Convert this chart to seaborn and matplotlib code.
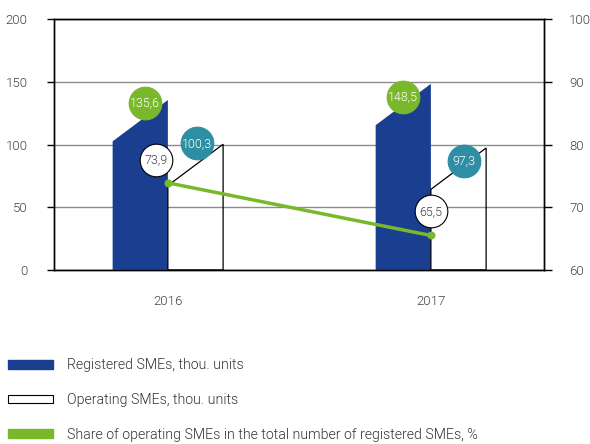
# SME chart: registered vs operating SMEs with share line
import numpy as np
import pandas as pd
import seaborn as sns
import matplotlib.pyplot as plt
from matplotlib.patches import Polygon, Patch
from matplotlib.transforms import offset_copy

# Data
years = ['2016', '2017']
registered = [135.6, 148.5]
operating = [100.3, 97.3]
share = [73.9, 65.5]

reg_name = 'Registered SMEs, thou. units'
op_name = 'Operating SMEs, thou. units'
share_name = 'Share of operating SMEs in the total number of registered SMEs, %'

# Style
BLUE = '#1a3f91'
GREEN = '#79b82b'
TEAL = '#2e8ea3'
TEXT = '#444444'
GRID = '#8c8c8c'
SLANT = 33      # drop of the bar top-left corner, in left-axis units
BAR_W = 0.42

sns.set_style('white')
plt.rcParams['font.family'] = ['Roboto', 'DejaVu Sans']
plt.rcParams['font.weight'] = 300

df = pd.DataFrame({
    'year': years * 2,
    'value': registered + operating,
    'series': [reg_name] * 2 + [op_name] * 2,
})

fig = plt.figure(figsize=(5.9, 4.44), dpi=100)
ax = fig.add_axes([0.0915, 0.392, 0.8305, 0.5646])

sns.barplot(data=df, x='year', y='value', hue='series', palette=[BLUE, 'white'],
            width=BAR_W, saturation=1, legend=False, ax=ax)

# turn the rectangles into bars with a slanted top
for p in list(ax.patches):
    x, w, h = p.get_x(), p.get_width(), p.get_height()
    fc = p.get_facecolor()
    white = fc[0] > 0.9 and fc[1] > 0.9
    p.remove()
    poly = Polygon([(x, 0), (x + w, 0), (x + w, h), (x, h - SLANT)], closed=True,
                   facecolor='none' if white else BLUE,
                   edgecolor='black' if white else BLUE,
                   lw=0.9 if white else 0, zorder=3)
    ax.add_patch(poly)

ax.set_ylim(0, 200)
ax.set_yticks([0, 50, 100, 150, 200])
ax.yaxis.grid(True, color=GRID, lw=1)
ax.set_axisbelow(True)
ax.set_xlabel('')
ax.set_ylabel('')

# share line on the right axis
ax2 = ax.twinx()
sns.lineplot(x=[0, 1], y=share, ax=ax2, color=GREEN, lw=2.5, marker='o',
             markersize=5, markeredgecolor=GREEN, zorder=4)
ax2.set_ylim(60, 100)
ax2.set_yticks([60, 70, 80, 90, 100])
ax2.set_ylabel('')

xl, xr = -0.433, 1.43
ax.set_xlim(xl, xr)
ax.set_xticks([0, 1])
ax.set_xticklabels(years)
ax.set_xticks([xl, xr], minor=True)
ax.tick_params(axis='x', which='major', length=0, pad=18, labelsize=9.5, labelcolor=TEXT)
ax.tick_params(axis='x', which='minor', direction='out', length=7, width=1, color='black')
ax.tick_params(axis='y', direction='out', length=5, width=1, color='black',
               pad=14, labelsize=9.5, labelcolor=TEXT)
ax2.tick_params(axis='y', direction='out', length=6, width=1, color='black',
                pad=12, labelsize=9.5, labelcolor=TEXT)

for a in (ax, ax2):
    for s in a.spines.values():
        s.set_visible(True)
        s.set_color('black')
        s.set_linewidth(1)


def fmt(v):
    return f'{v:.1f}'.replace('.', ',')


def badge(axis, x, y, text, dx, dy, face, edge, color):
    tr = offset_copy(axis.transData, fig=fig, x=dx, y=dy, units='dots')
    axis.plot(x, y, 'o', ms=23.5, mfc=face, mec=edge, mew=0.8,
              transform=tr, zorder=6, clip_on=False)
    axis.text(x, y, text, transform=tr, ha='center', va='center',
              fontsize=9, color=color, zorder=7)


# value badges (pixel offsets from their anchors)
reg_off = [(-23, -3), (-28, -13)]
op_off = [(-26, 1), (-22, -13)]
share_off = [(-12, 23), (0, 24)]

for i in range(len(years)):
    badge(ax2, i, share[i], fmt(share[i]), *share_off[i], 'white', 'black', TEXT)
    badge(ax2, i, 60 + registered[i] / 5, fmt(registered[i]), *reg_off[i], GREEN, GREEN, 'white')
    badge(ax2, i + BAR_W / 2, 60 + operating[i] / 5, fmt(operating[i]), *op_off[i], TEAL, TEAL, 'white')

handles = [Patch(facecolor=BLUE, edgecolor=BLUE),
           Patch(facecolor='white', edgecolor='black', lw=0.8),
           Patch(facecolor=GREEN, edgecolor=GREEN)]
leg = fig.legend(handles, [reg_name, op_name, share_name], loc='upper left',
                 bbox_to_anchor=(0.0136, 0.193), frameon=False, fontsize=10.2,
                 handlelength=3.18, handleheight=0.57, handletextpad=0.98,
                 labelspacing=1.46, borderpad=0, borderaxespad=0)
for t in leg.get_texts():
    t.set_color('#333333')

fig.savefig('out.png', dpi=100)
